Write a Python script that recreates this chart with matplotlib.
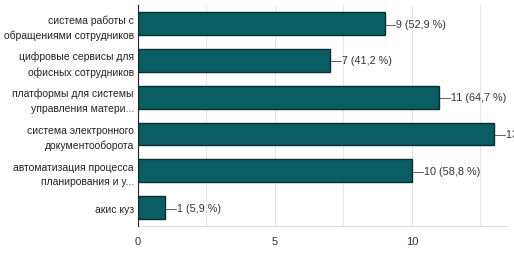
import matplotlib
matplotlib.use("Agg")
import matplotlib.pyplot as plt
from matplotlib.ticker import MultipleLocator

# data
labels = ["система работы с\nобращениями сотрудников",
          "цифровые сервисы для\nофисных сотрудников",
          "платформы для системы\nуправления матери...",
          "система электронного\nдокументооборота",
          "автоматизация процесса\nпланирования и у...",
          "акис куз"]
counts = [9, 7, 11, 13, 10, 1]
percents = ["52,9", "41,2", "64,7", "76,5", "58,8", "5,9"]

plt.rcParams['font.family'] = ['Liberation Sans', 'DejaVu Sans']

fig = plt.figure(figsize=(5.14, 2.55), dpi=100)
ax = fig.add_axes([0.2685, 0.11, 0.7195, 0.866])

ypos = list(range(len(labels)))
ax.barh(ypos, counts, height=0.62, color="#0b5d64", edgecolor="#062e33", linewidth=1.0, zorder=3)

for i in range(len(counts)):
    ax.text(counts[i] + 0.03, ypos[i], "\u2014" + str(counts[i]) + " (" + percents[i] + " %)",
            va="center", ha="left", fontsize=7.8, color="#333333", clip_on=False)

ax.set_xlim(0, 13.5)
ax.set_ylim(len(labels) - 0.5, -0.5)
ax.set_yticks(ypos)
ax.set_yticklabels(labels, fontsize=7.5, color="#222222", linespacing=1.55)
ax.xaxis.set_major_locator(MultipleLocator(5))
ax.xaxis.set_minor_locator(MultipleLocator(2.5))
ax.tick_params(axis="x", which="both", length=0, labelsize=8, colors="#333333", pad=7)
ax.tick_params(axis="y", length=0, pad=3)
ax.grid(True, axis="x", which="both", color="#e6e6e6", linewidth=0.8, zorder=0)

ax.spines["top"].set_visible(False)
ax.spines["right"].set_visible(False)
ax.spines["bottom"].set_color("#dddddd")
ax.spines["left"].set_color("#222222")
ax.spines["left"].set_zorder(4)

fig.savefig("out.png", dpi=100)
